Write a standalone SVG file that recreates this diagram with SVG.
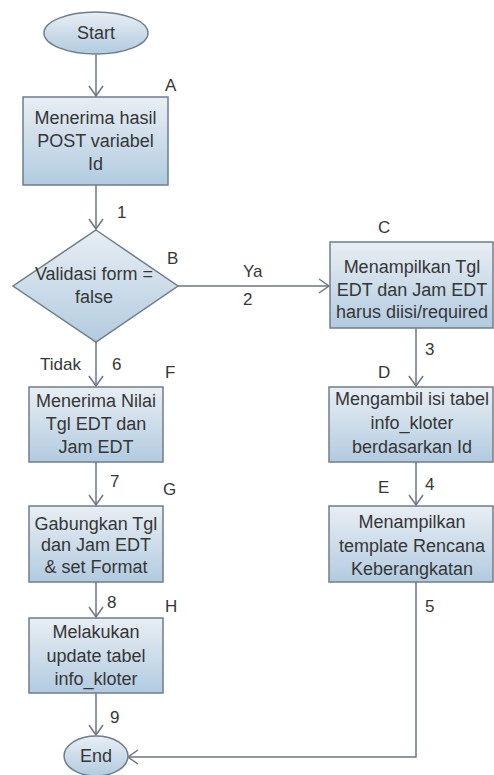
<svg xmlns="http://www.w3.org/2000/svg" width="494" height="775" viewBox="0 0 494 775">
<defs>
<linearGradient id="g" x1="0" y1="0" x2="0" y2="1">
<stop offset="0" stop-color="#e8eef3"/>
<stop offset="1" stop-color="#b2cbe0"/>
</linearGradient>
<marker id="arr" markerUnits="userSpaceOnUse" markerWidth="12" markerHeight="16" viewBox="0 0 12 16" refX="11" refY="8" orient="auto">
<path d="M1,1 L11,8 L1,15" fill="none" stroke="#6b7784" stroke-width="1.5"/>
</marker>
<style>
.n{fill:url(#g);stroke:#6e7d8c;stroke-width:1.5}
.t{font-family:"Liberation Sans",Arial,sans-serif;font-size:18px;fill:#363636;text-anchor:middle}
.l{font-family:"Liberation Sans",Arial,sans-serif;font-size:17px;fill:#363636}
.c{fill:none;stroke:#6b7784;stroke-width:1.5}
</style>
</defs>
<rect width="494" height="775" fill="#fff"/>
<g id="connectors">
<path class="c" d="M96,55 V96" marker-end="url(#arr)"/>
<path class="c" d="M96,185 V229" marker-end="url(#arr)"/>
<path class="c" d="M178,286 H329" marker-end="url(#arr)"/>
<path class="c" d="M96,342 V386" marker-end="url(#arr)"/>
<path class="c" d="M416,328 V386" marker-end="url(#arr)"/>
<path class="c" d="M416,462 V505" marker-end="url(#arr)"/>
<path class="c" d="M96,462 V505" marker-end="url(#arr)"/>
<path class="c" d="M96,582 V617" marker-end="url(#arr)"/>
<path class="c" d="M96,693 V735" marker-end="url(#arr)"/>
<path class="c" d="M416,582 V757 H128" marker-end="url(#arr)"/>
<text class="l" x="117" y="218">1</text>
<text class="l" x="243" y="277">Ya</text>
<text class="l" x="243" y="305">2</text>
<text class="l" x="425" y="355">3</text>
<text class="l" x="425" y="490">4</text>
<text class="l" x="425" y="612">5</text>
<text class="l" x="40" y="370">Tidak</text>
<text class="l" x="112" y="370">6</text>
<text class="l" x="110" y="487">7</text>
<text class="l" x="107" y="608">8</text>
<text class="l" x="110" y="723">9</text>
</g>
<g id="start">
<ellipse class="n" cx="96" cy="33" rx="52" ry="21"/>
<text class="t" x="96" y="39">Start</text>
</g>
<g id="A">
<rect class="n" x="23" y="97" width="145" height="88"/>
<text class="t" x="95.5" y="124">Menerima hasil</text>
<text class="t" x="95.5" y="147">POST variabel</text>
<text class="t" x="95.5" y="170">Id</text>
<text class="l" x="165" y="91">A</text>
</g>
<g id="B">
<polygon class="n" points="96,230 178,286 96,342 13,286"/>
<text class="t" x="94" y="280">Validasi form =</text>
<text class="t" x="94" y="303">false</text>
<text class="l" x="167" y="264">B</text>
</g>
<g id="C">
<rect class="n" x="330" y="242" width="163" height="86"/>
<text class="t" x="412" y="273">Menampilkan Tgl</text>
<text class="t" x="412" y="296">EDT dan Jam EDT</text>
<text class="t" x="412" y="318">harus diisi/required</text>
<text class="l" x="378" y="233">C</text>
</g>
<g id="D">
<rect class="n" x="329" y="387" width="164" height="75"/>
<text class="t" x="412" y="405">Mengambil isi tabel</text>
<text class="t" x="412" y="429">info_kloter</text>
<text class="t" x="412" y="453">berdasarkan Id</text>
<text class="l" x="378" y="378">D</text>
</g>
<g id="E">
<rect class="n" x="329" y="506" width="164" height="76"/>
<text class="t" x="412" y="528">Menampilkan</text>
<text class="t" x="412" y="552">template Rencana</text>
<text class="t" x="412" y="575">Keberangkatan</text>
<text class="l" x="378" y="493">E</text>
</g>
<g id="F">
<rect class="n" x="29" y="387" width="134" height="75"/>
<text class="t" x="96" y="407">Menerima Nilai</text>
<text class="t" x="96" y="430">Tgl EDT dan</text>
<text class="t" x="96" y="453">Jam EDT</text>
<text class="l" x="165" y="378">F</text>
</g>
<g id="G">
<rect class="n" x="29" y="506" width="134" height="76"/>
<text class="t" x="96" y="530">Gabungkan Tgl</text>
<text class="t" x="96" y="551">dan Jam EDT</text>
<text class="t" x="96" y="573">&amp; set Format</text>
<text class="l" x="163" y="495">G</text>
</g>
<g id="H">
<rect class="n" x="29" y="618" width="134" height="75"/>
<text class="t" x="96" y="638">Melakukan</text>
<text class="t" x="96" y="662">update tabel</text>
<text class="t" x="96" y="685">info_kloter</text>
<text class="l" x="165" y="612">H</text>
</g>
<g id="end">
<ellipse class="n" cx="96" cy="756" rx="32" ry="20"/>
<text class="t" x="96" y="762">End</text>
</g>
</svg>
